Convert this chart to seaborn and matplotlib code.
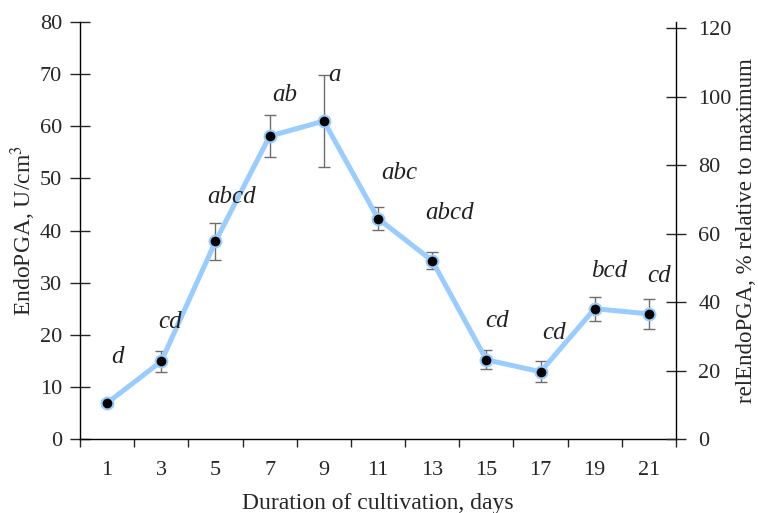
import numpy as np
import pandas as pd
import matplotlib
matplotlib.use("Agg")
import matplotlib.pyplot as plt
import seaborn as sns

days = [1, 3, 5, 7, 9, 11, 13, 15, 17, 19, 21]
activity = [6.9, 14.9, 37.9, 58.1, 61.0, 42.3, 34.2, 15.2, 12.9, 25.0, 24.0]
err_upper = [0.6, 2.0, 3.6, 4.0, 8.8, 2.2, 1.6, 1.8, 2.0, 2.3, 2.9]
err_lower = [0.6, 2.0, 3.6, 4.0, 8.8, 2.2, 1.6, 1.8, 2.0, 2.3, 2.9]
letters = ["d", "cd", "abcd", "ab", "a", "abc", "abcd", "cd", "cd", "bcd", "cd"]
letter_dx = [0.20, 0.16, 0.30, 0.27, 0.19, 0.40, 0.33, 0.19, 0.24, 0.27, 0.19]
letter_y = [15.7, 22.4, 46.4, 66.0, 69.8, 51.0, 43.4, 22.6, 20.3, 32.2, 31.3]

sns.set_theme(style="white")
plt.rcParams["font.family"] = ["Liberation Serif", "DejaVu Serif"]
plt.rcParams["mathtext.fontset"] = "stix"

df = pd.DataFrame({"pos": np.arange(len(days)), "activity": activity})

fig = plt.figure(figsize=(7.58, 5.13), dpi=100)
ax = fig.add_axes([80 / 758, 74 / 513, 596 / 758, 417 / 513])

ax.errorbar(df["pos"], df["activity"], yerr=[err_lower, err_upper], fmt="none",
            ecolor="#6e6e6e", elinewidth=1.0, capsize=4, capthick=1.0, zorder=2)
sns.lineplot(data=df, x="pos", y="activity", ax=ax, color="#99ccff", linewidth=3.6,
             marker="o", markersize=8.5, markerfacecolor="black",
             markeredgecolor="#99ccff", markeredgewidth=1.5, zorder=3)

for i, (lab, dx, ly) in enumerate(zip(letters, letter_dx, letter_y)):
    ax.text(i + dx, ly, lab, fontsize=18, style="italic", ha="center", va="center",
            color="#222222")

ax.set_xlim(-0.5, len(days) - 0.5)
ax.set_ylim(0, 80)
ax.set_yticks(np.arange(0, 81, 10))
ax.set_xticks(np.arange(len(days)))
ax.set_xticklabels([str(d) for d in days])
ax.set_xticks(np.arange(-0.5, len(days), 1.0), minor=True)
ax.tick_params(axis="x", which="major", length=0, pad=16, labelsize=16)
ax.tick_params(axis="x", which="minor", length=6, width=1, direction="out", bottom=True)
ax.tick_params(axis="y", which="major", length=14, width=1, direction="inout",
               left=True, labelsize=16, pad=6)

for side in ["top", "right"]:
    ax.spines[side].set_visible(False)
for side in ["left", "bottom"]:
    ax.spines[side].set_color("black")
    ax.spines[side].set_linewidth(1.0)

ax.set_xlabel("Duration of cultivation, days", fontsize=17, labelpad=9)
ax.set_ylabel("EndoPGA, U/cm$^3$", fontsize=17, labelpad=1)

ax2 = ax.twinx()
ax2.set_ylim(0, 121.8)
ax2.set_yticks(np.arange(0, 121, 20))
ax2.tick_params(axis="y", which="major", length=14, width=1, direction="inout",
                right=True, labelsize=16, pad=9)
for side in ["top", "left", "bottom"]:
    ax2.spines[side].set_visible(False)
ax2.spines["right"].set_color("black")
ax2.spines["right"].set_linewidth(1.0)
ax2.set_ylabel("relEndoPGA, % relative to maximum", fontsize=16.5, labelpad=3)
ax2.grid(False)
ax.grid(False)

fig.savefig("out.png", dpi=100)
